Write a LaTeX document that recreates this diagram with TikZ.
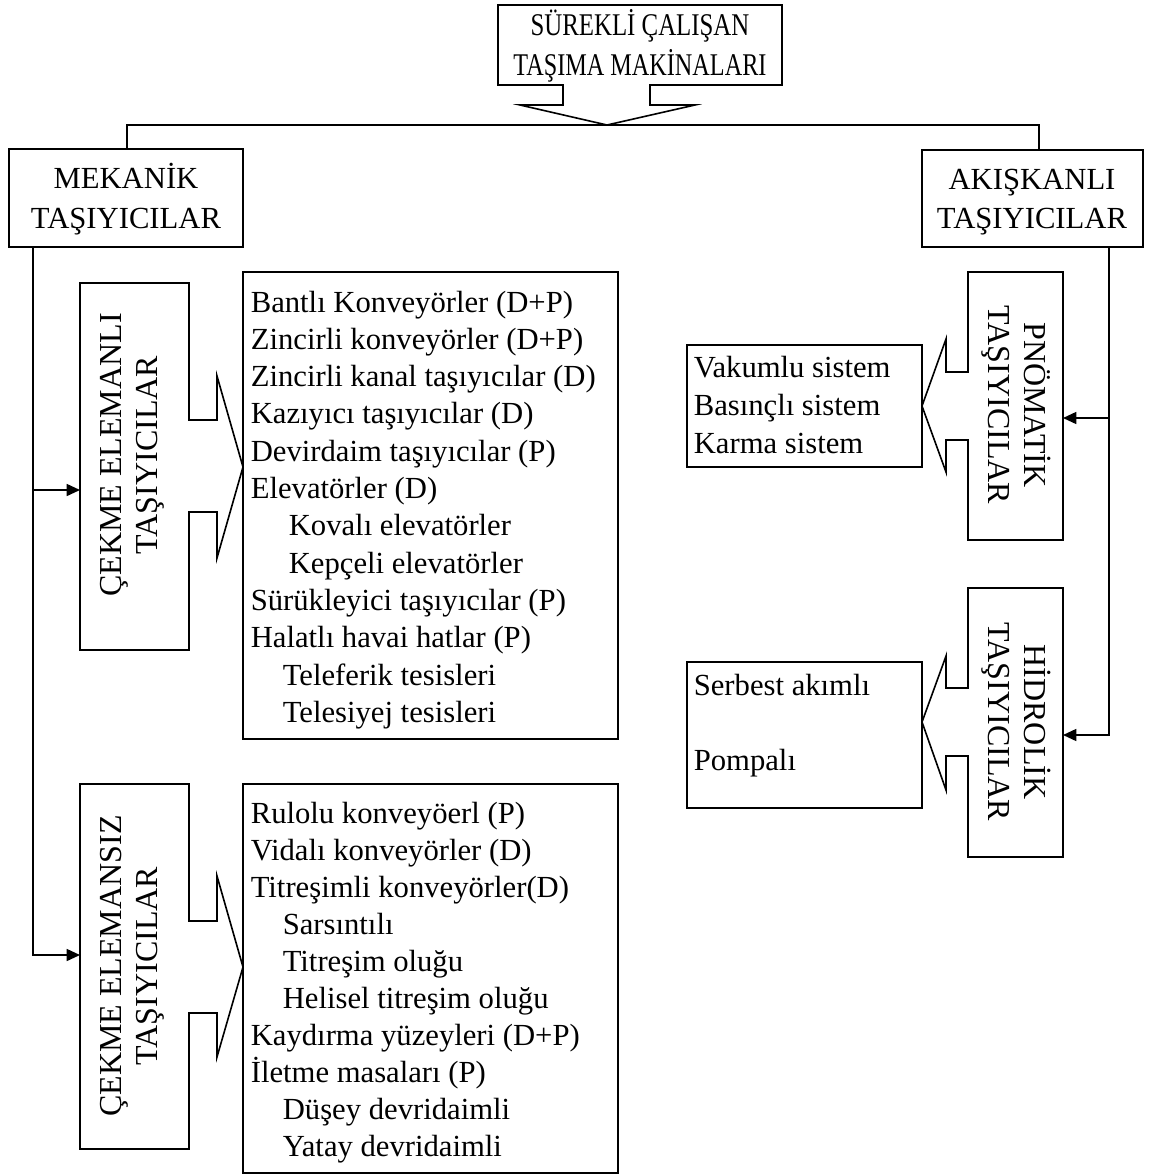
\documentclass[tikz,border=0pt]{standalone}
\usepackage{fontspec}
\setmainfont{Liberation Serif}
\usetikzlibrary{arrows.meta,fit}
\begin{document}
\begin{tikzpicture}[x=0.75pt, y=-0.75pt,
  line width=1.2pt, line join=miter,
  box/.style={draw, line width=1.2pt, inner sep=0pt},
  hd/.style={anchor=base, inner sep=0pt, font=\fontsize{23}{28}\selectfont},
  item/.style={anchor=base west, inner sep=0pt, font=\fontsize{23}{28}\selectfont},
  vt/.style={align=center, inner sep=0pt, font=\fontsize{24}{27}\selectfont},
  arr/.style={line width=1.2pt, -{Triangle[length=10pt,width=9pt]}},
  conn/.style={line width=1.2pt}]
\useasboundingbox (0,0) rectangle (1154,1175);

% ---- top callout ----
\draw[box] (563,85) -- (498,85) -- (498,5) -- (782,5) -- (782,85) -- (650,85)
  -- (650,105) -- (695,105) -- (607,125) -- (520,105) -- (563,105) -- cycle;
\coordinate (toptip) at (607,125);
\node[hd] (t1) at (640,35) {\scalebox{0.81}[1.03]{SÜREKLİ ÇALIŞAN}};
\node[hd] (t2) at (640,75) {\scalebox{0.79}[1.03]{TAŞIMA MAKİNALARI}};

% ---- level 1 boxes ----
\node[box, fit={(9,149)(243,247)}] (mek) {};
\node[hd] (mek1) at (126,188) {MEKANİK};
\node[hd] (mek2) at (126,228) {TAŞIYICILAR};

\node[box, fit={(922,150)(1143,247)}] (akis) {};
\node[hd] (ak1) at (1032,189) {AKIŞKANLI};
\node[hd] (ak2) at (1032,228) {TAŞIYICILAR};

\coordinate (mtop) at (127,149);
\coordinate (atop) at (1039,150);
\draw[conn] (mtop) -- (mtop |- toptip) -- (atop |- toptip) -- (atop);

% ---- ÇEKME ELEMANLI callout ----
\draw[box] (189,420) -- (189,283) -- (80,283) -- (80,650) -- (189,650) -- (189,512)
  -- (217,512) -- (217,558) -- (243,467) -- (217,376) -- (217,420) -- cycle;
\node[vt, rotate=90] (cel) at (132,455) {ÇEKME ELEMANLI\\TAŞIYICILAR};

% ---- ÇEKME ELEMANSIZ callout ----
\draw[box] (189,921) -- (189,784) -- (80,784) -- (80,1149) -- (189,1149) -- (189,1013)
  -- (217,1013) -- (217,1057) -- (243,967) -- (217,876) -- (217,921) -- cycle;
\node[vt, rotate=90] (ces) at (132,966) {ÇEKME ELEMANSIZ\\TAŞIYICILAR};

% ---- left connectors ----
\coordinate (m0) at (33,247);
\coordinate (m1) at (33,490);
\coordinate (celL) at (80,490);
\coordinate (cesL) at (80,955);
\draw[arr] (m0) |- (cesL);
\draw[arr] (m1) -- (celL);

% ---- list 1 ----
\node[box, fit={(243,272)(618,739)}] (list1) {};
\foreach \xx/\t [count=\i] in {
  250/Bantlı Konveyörler (D+P),
  250/Zincirli konveyörler (D+P),
  250/Zincirli kanal taşıyıcılar (D),
  250/Kazıyıcı taşıyıcılar (D),
  250/Devirdaim taşıyıcılar (P),
  250/Elevatörler (D),
  288/Kovalı elevatörler,
  288/Kepçeli elevatörler,
  250/Sürükleyici taşıyıcılar (P),
  250/Halatlı havai hatlar (P),
  282/Teleferik tesisleri,
  282/Telesiyej tesisleri}
  \node[item] (a\i) at (\xx,{312+37.3*(\i-1)}) {\t};

% ---- list 2 ----
\node[box, fit={(243,784)(618,1173)}] (list2) {};
\foreach \xx/\t [count=\i] in {
  250/Rulolu konveyöerl (P),
  250/Vidalı konveyörler (D),
  250/Titreşimli konveyörler(D),
  282/Sarsıntılı,
  282/Titreşim oluğu,
  282/Helisel titreşim oluğu,
  250/Kaydırma yüzeyleri (D+P),
  250/İletme masaları (P),
  282/Düşey devridaimli,
  282/Yatay devridaimli}
  \node[item] (b\i) at (\xx,{823+37.1*(\i-1)}) {\t};

% ---- PNÖMATİK callout ----
\draw[box] (968,372) -- (968,272) -- (1063,272) -- (1063,540) -- (968,540) -- (968,440)
  -- (946,440) -- (946,472) -- (922,406) -- (946,339) -- (946,372) -- cycle;
\node[vt, rotate=-90] (pno) at (1016,405) {PNÖMATİK\\TAŞIYICILAR};

% ---- HİDROLİK callout ----
\draw[box] (968,688) -- (968,588) -- (1063,588) -- (1063,857) -- (968,857) -- (968,756)
  -- (946,756) -- (946,790) -- (922,722) -- (946,656) -- (946,688) -- cycle;
\node[vt, rotate=-90] (hid) at (1016,722) {HİDROLİK\\TAŞIYICILAR};

% ---- right connectors ----
\coordinate (a0) at (1109,247);
\coordinate (a1) at (1109,418);
\coordinate (pnoR) at (1063,418);
\coordinate (hidR) at (1063,735);
\draw[arr] (a0) |- (hidR);
\draw[arr] (a1) -- (pnoR);

% ---- right lists ----
\node[box, fit={(687,345)(922,467)}] (list3) {};
\node[item] (c1) at (693,377) {Vakumlu sistem};
\node[item] (c2) at (693,415) {Basınçlı sistem};
\node[item] (c3) at (693,453) {Karma sistem};

\node[box, fit={(687,662)(922,808)}] (list4) {};
\node[item] (d1) at (693,695) {Serbest akımlı};
\node[item] (d2) at (693,770) {Pompalı};
\end{tikzpicture}
\end{document}
